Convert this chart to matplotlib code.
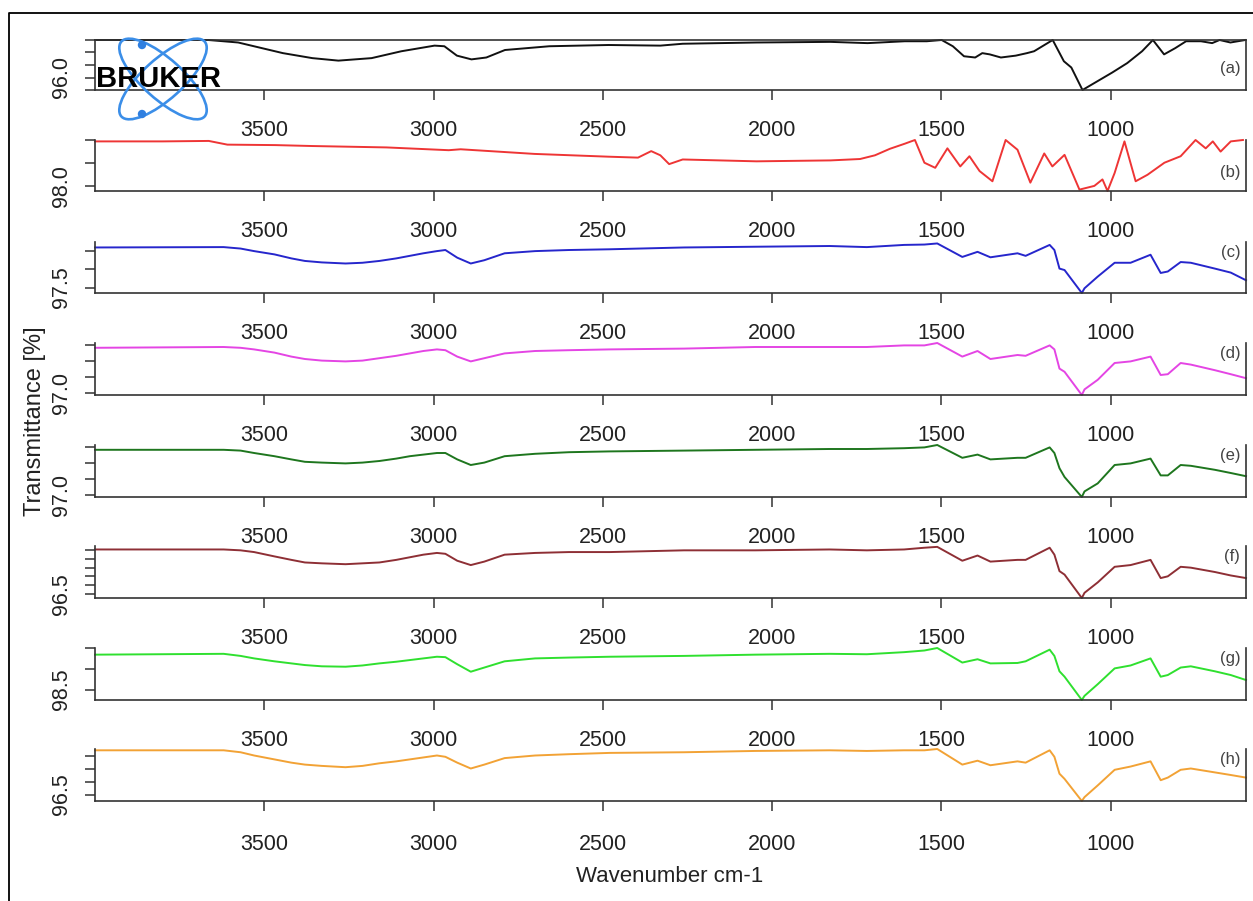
import numpy as np
import matplotlib.pyplot as plt
from matplotlib.patches import Ellipse, Circle

plt.rcParams['font.family'] = ['Liberation Sans', 'DejaVu Sans']

# ---- spectra (wavenumber cm-1, transmittance %) ----
wn_a = [4000, 3665, 3577, 3445, 3358, 3281, 3183, 3095, 2997, 2968, 2931, 2888, 2844,
        2789, 2658, 2483, 2330, 2264, 2046, 1827, 1718, 1608, 1543, 1499, 1466, 1433,
        1400, 1379, 1357, 1324, 1280, 1247, 1226, 1171, 1138, 1116, 1083, 1039, 995,
        951, 907, 875, 842, 809, 777, 733, 700, 678, 646, 602]
t_a = [96.60, 96.60, 96.56, 96.39, 96.31, 96.27, 96.31, 96.42, 96.51, 96.50, 96.35, 96.29,
       96.32, 96.44, 96.50, 96.52, 96.51, 96.54, 96.56, 96.57, 96.55, 96.58, 96.58, 96.60,
       96.50, 96.34, 96.32, 96.39, 96.37, 96.32, 96.35, 96.39, 96.42, 96.60, 96.26, 96.16,
       95.80, 95.94, 96.08, 96.23, 96.42, 96.60, 96.37, 96.47, 96.58, 96.58, 96.55, 96.60,
       96.56, 96.60]

wn_b = [4000, 3800, 3664, 3609, 3467, 3358, 3139, 2955, 2920, 2702, 2483, 2396, 2357,
        2330, 2304, 2264, 2155, 2046, 1827, 1740, 1696, 1652, 1608, 1578, 1550, 1518,
        1482, 1444, 1417, 1387, 1349, 1310, 1275, 1237, 1196, 1172, 1136, 1092, 1048,
        1024, 1009, 988, 959, 926, 891, 841, 793, 749, 719, 698, 675, 645, 609]
t_b = [98.97, 98.97, 98.98, 98.90, 98.89, 98.87, 98.84, 98.78, 98.80, 98.70, 98.64, 98.62,
       98.76, 98.67, 98.48, 98.58, 98.56, 98.54, 98.56, 98.59, 98.67, 98.81, 98.92, 99.00,
       98.51, 98.40, 98.82, 98.43, 98.65, 98.33, 98.11, 99.00, 98.79, 98.08, 98.71, 98.43,
       98.68, 97.93, 98.01, 98.15, 97.90, 98.29, 98.97, 98.11, 98.25, 98.51, 98.65, 99.00,
       98.82, 98.97, 98.75, 98.97, 99.00]

# shared wavenumber grid for (c)-(h)
wn = [4000, 3620, 3570, 3530, 3470, 3420, 3380, 3330, 3260, 3210, 3160, 3110, 3070, 3030,
      2990, 2965, 2930, 2890, 2850, 2790, 2700, 2600, 2480, 2260, 2050, 1830, 1720, 1610,
      1550, 1512, 1438, 1393, 1355, 1275, 1251, 1180, 1166, 1151, 1136, 1085, 1077, 1038,
      988, 941, 882, 852, 831, 793, 763, 692, 645, 600]
t_c = [98.60, 98.61, 98.57, 98.50, 98.41, 98.30, 98.23, 98.19, 98.16, 98.18, 98.23, 98.30,
       98.37, 98.44, 98.50, 98.53, 98.32, 98.16, 98.25, 98.44, 98.50, 98.53, 98.55, 98.60,
       98.62, 98.64, 98.61, 98.67, 98.68, 98.71, 98.34, 98.48, 98.33, 98.44, 98.37, 98.67,
       98.53, 98.02, 97.98, 97.35, 97.48, 97.80, 98.18, 98.18, 98.40, 97.90, 97.94, 98.20,
       98.18, 98.02, 97.91, 97.70]
t_d = [97.56, 97.57, 97.56, 97.54, 97.50, 97.45, 97.42, 97.40, 97.39, 97.40, 97.43, 97.46,
       97.49, 97.52, 97.54, 97.53, 97.45, 97.39, 97.43, 97.49, 97.52, 97.53, 97.54, 97.55,
       97.57, 97.57, 97.57, 97.59, 97.59, 97.62, 97.45, 97.52, 97.42, 97.47, 97.46, 97.59,
       97.54, 97.30, 97.26, 96.97, 97.04, 97.16, 97.37, 97.39, 97.45, 97.22, 97.23, 97.37,
       97.35, 97.28, 97.23, 97.18]
t_e = [97.56, 97.56, 97.55, 97.52, 97.48, 97.44, 97.41, 97.40, 97.39, 97.40, 97.42, 97.45,
       97.48, 97.50, 97.52, 97.52, 97.44, 97.37, 97.40, 97.48, 97.51, 97.53, 97.54, 97.55,
       97.56, 97.57, 97.57, 97.58, 97.59, 97.62, 97.46, 97.50, 97.44, 97.46, 97.46, 97.59,
       97.52, 97.33, 97.22, 96.97, 97.04, 97.14, 97.37, 97.39, 97.45, 97.24, 97.24, 97.37,
       97.36, 97.31, 97.27, 97.23]
t_f = [97.01, 97.01, 97.00, 96.98, 96.93, 96.89, 96.86, 96.85, 96.84, 96.85, 96.86, 96.89,
       96.92, 96.95, 96.97, 96.96, 96.88, 96.83, 96.87, 96.95, 96.97, 96.98, 96.98, 97.00,
       97.00, 97.01, 97.00, 97.01, 97.03, 97.04, 96.88, 96.94, 96.87, 96.89, 96.89, 97.03,
       96.95, 96.76, 96.72, 96.45, 96.51, 96.63, 96.81, 96.83, 96.89, 96.68, 96.70, 96.81,
       96.80, 96.75, 96.71, 96.68]
t_g = [99.34, 99.36, 99.31, 99.25, 99.18, 99.13, 99.09, 99.06, 99.05, 99.08, 99.13, 99.17,
       99.21, 99.25, 99.29, 99.28, 99.11, 98.93, 99.03, 99.18, 99.25, 99.27, 99.29, 99.31,
       99.34, 99.36, 99.35, 99.40, 99.44, 99.50, 99.15, 99.23, 99.13, 99.14, 99.18, 99.46,
       99.31, 98.94, 98.81, 98.25, 98.35, 98.63, 99.01, 99.08, 99.25, 98.81, 98.85, 99.03,
       99.06, 98.94, 98.85, 98.73]
t_h = [97.18, 97.18, 97.15, 97.10, 97.04, 96.99, 96.96, 96.94, 96.92, 96.94, 96.98, 97.01,
       97.04, 97.07, 97.10, 97.08, 96.99, 96.90, 96.96, 97.06, 97.10, 97.12, 97.14, 97.15,
       97.17, 97.18, 97.17, 97.18, 97.18, 97.20, 96.96, 97.02, 96.95, 97.01, 96.99, 97.18,
       97.08, 96.82, 96.74, 96.40, 96.46, 96.64, 96.88, 96.93, 97.01, 96.72, 96.76, 96.88,
       96.90, 96.84, 96.80, 96.76]

panel_names = ['(a)', '(b)', '(c)', '(d)', '(e)', '(f)', '(g)', '(h)']
xs = [wn_a, wn_b, wn, wn, wn, wn, wn, wn]
ys = [t_a, t_b, t_c, t_d, t_e, t_f, t_g, t_h]
colors = ['#111111', '#ee3535', '#2626cc', '#e445e4', '#1e761e', '#8e2f35', '#2fe02f', '#f2a235']
ylims = [(95.8, 96.6), (97.9, 99.0), (97.35, 98.75), (96.97, 97.62),
         (96.97, 97.62), (96.45, 97.05), (98.25, 99.5), (96.4, 97.2)]
yticks = [[95.8, 96.0, 96.2, 96.4, 96.6], [98.0, 98.5, 99.0], [97.5, 98.0, 98.5],
          [97.0, 97.2, 97.4, 97.6], [97.0, 97.2, 97.4, 97.6],
          [96.5, 96.6, 96.7, 96.8, 96.9, 97.0], [98.5, 99.0, 99.5], [96.5, 96.7, 96.9, 97.1]]
ytick_shown = ['96.0', '98.0', '97.5', '97.0', '97.0', '96.5', '98.5', '96.5']
xticks = [3500, 3000, 2500, 2000, 1500, 1000]

# panel layout in pixels (top, bottom)
W, H = 1253, 901
tops = [40, 140, 242, 343, 445, 546, 648, 749]
bots = [90, 191, 293, 395, 497, 598, 700, 801]
lab_y = [0.44, 0.37, 0.8, 0.8, 0.8, 0.8, 0.8, 0.8]
left_px, right_px = 95, 1246

fig = plt.figure(figsize=(W / 100, H / 100), dpi=100)
fig.patch.set_facecolor('white')

for i in range(8):
    ax = fig.add_axes([left_px / W, 1 - bots[i] / H, (right_px - left_px) / W,
                       (bots[i] - tops[i]) / H])
    ax.plot(xs[i], ys[i], color=colors[i], lw=1.4, clip_on=False)
    ax.set_xlim(4000, 600)
    ax.set_ylim(*ylims[i])
    ax.set_xticks(xticks)
    ax.set_xticklabels([str(v) for v in xticks])
    ax.set_yticks(yticks[i])
    ax.set_yticklabels([ytick_shown[i] if f'{v:.1f}' == ytick_shown[i] else ''
                        for v in yticks[i]])
    ax.tick_params(axis='x', direction='out', length=7.5, width=1.1,
                   pad=14 if i < 7 else 16, labelsize=15.5, color='#333333',
                   labelcolor='#222222')
    ax.tick_params(axis='y', direction='out', length=7.5, width=1.1, pad=9,
                   labelsize=15.5, color='#333333', labelcolor='#222222',
                   labelrotation=90)
    for t in ax.get_yticklabels():
        t.set_va('center')
    for s in ax.spines.values():
        s.set_linewidth(1.2)
        s.set_color('#333333')
    if i > 0:
        ax.spines['top'].set_visible(False)
    ax.text(0.995, lab_y[i], panel_names[i], transform=ax.transAxes, ha='right',
            va='center', fontsize=12, color='#444444')

fig.text(35 / W, 1 - 421 / H, 'Transmittance [%]', rotation=90, ha='center',
         va='center', fontsize=17, color='#222222')
fig.text(670 / W, 1 - 877 / H, 'Wavenumber cm-1', ha='center', va='center',
         fontsize=16, color='#222222')

# overlay in pixel coords: outer frame and Bruker logo
ov = fig.add_axes([0, 0, 1, 1])
ov.set_xlim(0, W)
ov.set_ylim(H, 0)
ov.axis('off')
ov.patch.set_alpha(0)
ov.set_zorder(10)
ov.plot([9, 9, W + 5], [H + 5, 13, 13], color='black', lw=1.3, clip_on=False)
for ang in (42, -42):
    ov.add_patch(Ellipse((163, 79), 112, 40, angle=ang, fill=False,
                         ec='#3b8ee8', lw=1.9))
ov.add_patch(Circle((142, 45), 3.5, color='#2f7fe0'))
ov.add_patch(Circle((142, 114), 3.5, color='#2f7fe0'))
ov.text(96, 79, 'BRUKER', fontsize=21, fontweight='bold', ha='left', va='center',
        color='black')

fig.savefig('out.png', dpi=100)
